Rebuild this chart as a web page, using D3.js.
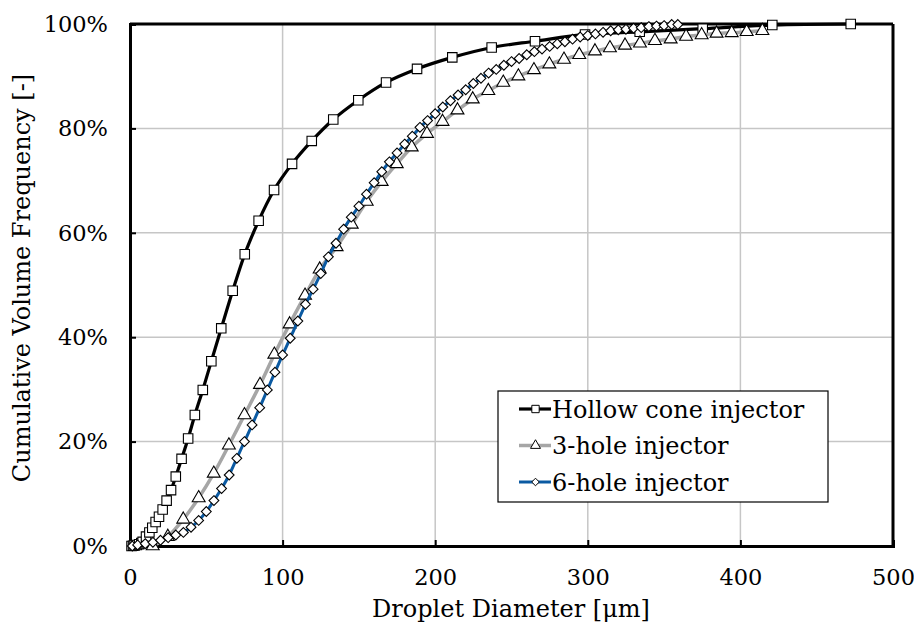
<!DOCTYPE html>
<html>
<head>
<meta charset="utf-8">
<script src="https://cdn.jsdelivr.net/npm/d3@7"></script>
<style>
  html, body { margin: 0; padding: 0; background: #fff; }
  svg { display: block; }
  text { font-family: "DejaVu Serif", serif; fill: #000; }
</style>
</head>
<body>
<svg id="chart" width="914" height="628"></svg>
<script>
// ---- Data ----
const seriesNames = ["Hollow cone injector", "3-hole injector", "6-hole injector"];

const hollowD = [1.0, 2.0, 3.0, 4.5, 6.0, 7.4, 8.3, 10.5, 12.7, 14.6, 16.8, 19.0, 21.4, 24.0, 26.9, 30.0, 33.8, 38.1, 42.5, 47.7, 53.3, 59.8, 67.3, 75.2, 84.3, 94.4, 106.2, 119.1, 133.2, 149.6, 167.8, 188.1, 211.2, 237.0, 265.4, 298.2, 334.0, 375.3, 420.9, 472.3];
const hollowV = [0.0, 0.05, 0.1, 0.2, 0.35, 0.55, 0.8, 1.8, 2.6, 3.5, 4.6, 5.6, 7.0, 8.7, 10.7, 13.3, 16.7, 20.6, 25.1, 29.9, 35.4, 41.7, 48.9, 55.9, 62.3, 68.2, 73.2, 77.6, 81.7, 85.4, 88.8, 91.4, 93.6, 95.5, 96.7, 98.0, 98.5, 99.1, 99.8, 100.0];

const threeD = [14.9, 24.8, 34.9, 45.0, 54.9, 64.8, 75.0, 85.2, 94.6, 104.6, 114.7, 124.3, 135.4, 145.3, 155.1, 164.9, 174.8, 184.6, 194.6, 204.8, 214.6, 224.6, 234.8, 244.6, 254.5, 264.7, 274.8, 284.4, 294.4, 304.7, 314.5, 324.4, 334.2, 344.0, 354.3, 364.4, 374.6, 384.4, 394.3, 404.1, 414.4];
const threeV = [0.0, 1.8, 5.1, 9.2, 13.9, 19.3, 25.1, 30.9, 36.7, 42.5, 48.0, 53.0, 57.3, 61.6, 66.0, 69.8, 73.2, 76.4, 79.0, 81.3, 83.5, 85.6, 87.2, 88.8, 90.0, 91.2, 92.3, 93.2, 94.1, 94.8, 95.4, 95.9, 96.3, 96.8, 97.1, 97.6, 97.9, 98.2, 98.3, 98.5, 98.7];

const sixD = [1.5, 5, 10, 15, 20, 25, 30, 35, 40, 45, 50, 55, 60, 65, 70, 75, 80, 85, 90, 95, 100, 105, 110, 115, 120, 125, 130, 135, 140, 145, 150, 155, 160, 165, 170, 175, 180, 185, 190, 195, 200, 205, 210, 215, 220, 225, 230, 235, 240, 245, 250, 255, 260, 265, 270, 275, 280, 285, 290, 295, 300, 305, 310, 315, 320, 325, 330, 335, 340, 345, 350, 355, 359];
const sixV = [0.0, 0.2, 0.45, 0.7, 1.1, 1.6, 2.1, 2.6, 3.6, 4.9, 6.6, 8.7, 11.0, 13.6, 16.8, 20.0, 23.2, 26.5, 29.9, 33.3, 36.6, 39.8, 43.1, 46.3, 49.2, 52.2, 55.4, 58.0, 60.7, 63.0, 65.1, 67.4, 69.6, 71.7, 73.6, 75.3, 77.0, 78.5, 80.2, 81.5, 82.8, 84.1, 85.3, 86.4, 87.4, 88.6, 89.6, 90.6, 91.3, 92.1, 92.8, 93.4, 94.1, 94.7, 95.2, 95.7, 96.2, 96.6, 97.1, 97.5, 97.8, 98.1, 98.4, 98.7, 98.9, 99.0, 99.2, 99.3, 99.5, 99.6, 99.7, 99.9, 99.9];

const xTicks = [0, 100, 200, 300, 400, 500];
const yTicks = [0, 20, 40, 60, 80, 100];
const xTitle = "Droplet Diameter [\u03bcm]";
const yTitle = "Cumulative Volume Frequency [-]";

// ---- Layout ----
const svg = d3.select("#chart");
const pL = 130, pR = 893, pT = 24, pB = 546;

const x = d3.scaleLinear().domain([0, 500]).range([pL, pR]);
const y = d3.scaleLinear().domain([0, 100]).range([pB, pT]);

// square rotated 45 degrees (diamond with equal diagonals)
const symbolRhombus = {
  draw(ctx, size) {
    const r = Math.sqrt(size / 2);
    ctx.moveTo(0, -r); ctx.lineTo(r, 0); ctx.lineTo(0, r); ctx.lineTo(-r, 0); ctx.closePath();
  }
};

// gridlines
const grid = svg.append("g");
grid.selectAll("line.gx").data(xTicks.slice(1, -1)).join("line")
  .attr("x1", d => x(d)).attr("x2", d => x(d))
  .attr("y1", pT).attr("y2", pB)
  .attr("stroke", "#c6c6c6").attr("stroke-width", 1.5);
grid.selectAll("line.gy").data(yTicks.slice(1, -1)).join("line")
  .attr("x1", pL).attr("x2", pR)
  .attr("y1", d => y(d)).attr("y2", d => y(d))
  .attr("stroke", "#c6c6c6").attr("stroke-width", 1.5);

// frame top/right
svg.append("line").attr("x1", pL).attr("x2", pR).attr("y1", pT).attr("y2", pT)
  .attr("stroke", "#000").attr("stroke-width", 3);
svg.append("line").attr("x1", pR).attr("x2", pR).attr("y1", pT).attr("y2", pB)
  .attr("stroke", "#000").attr("stroke-width", 3);

// axes
const xAxis = d3.axisBottom(x).tickValues(xTicks).tickSize(-6).tickPadding(23).tickFormat(d3.format("d"));
const gx = svg.append("g").attr("transform", `translate(0,${pB})`).call(xAxis);
gx.select(".domain").attr("stroke", "#000").attr("stroke-width", 3);
gx.selectAll(".tick line").attr("stroke", "#000").attr("stroke-width", 2);
gx.selectAll(".tick text").attr("font-family", "DejaVu Serif").attr("font-size", 22.5).attr("dy", "0.71em");

const yAxis = d3.axisLeft(y).tickValues(yTicks).tickSize(-6).tickPadding(22).tickFormat(d => d + "%");
const gy = svg.append("g").attr("transform", `translate(${pL},0)`).call(yAxis);
gy.select(".domain").attr("stroke", "#000").attr("stroke-width", 3);
gy.selectAll(".tick line").attr("stroke", "#000").attr("stroke-width", 2);
gy.selectAll(".tick text").attr("font-family", "DejaVu Serif").attr("font-size", 22.5);

// axis titles
svg.append("text").attr("x", 511).attr("y", 617)
  .attr("text-anchor", "middle").attr("font-size", 24).text(xTitle);
svg.append("text").attr("transform", `translate(30,278) rotate(-90)`)
  .attr("text-anchor", "middle").attr("font-size", 24).text(yTitle);

// series
const series = [
  { name: seriesNames[0], d: hollowD, v: hollowV, color: "#000000", width: 3.2, shape: d3.symbolSquare, size: 90 },
  { name: seriesNames[1], d: threeD, v: threeV, color: "#a6a6a6", width: 3.5, shape: d3.symbolTriangle, size: 72 },
  { name: seriesNames[2], d: sixD, v: sixV, color: "#0b5aa2", width: 3, shape: symbolRhombus, size: 48 }
];

const line = d3.line().x(p => x(p[0])).y(p => y(p[1])).curve(d3.curveMonotoneX);

series.forEach(s => {
  const pts = s.d.map((d, i) => [d, s.v[i]]);
  const g = svg.append("g");
  g.append("path").datum(pts).attr("d", line)
    .attr("fill", "none").attr("stroke", s.color).attr("stroke-width", s.width)
    .attr("stroke-linejoin", "round");
  g.selectAll("path.m").data(pts).join("path").attr("class", "m")
    .attr("transform", p => `translate(${x(p[0])},${y(p[1])})`)
    .attr("d", d3.symbol().type(s.shape).size(s.size))
    .attr("fill", "#fff").attr("stroke", "#000").attr("stroke-width", 1.1);
});

// legend
const lg = svg.append("g");
lg.append("rect").attr("x", 498).attr("y", 391).attr("width", 330).attr("height", 111)
  .attr("fill", "#fff").attr("stroke", "#000").attr("stroke-width", 1.2);
series.forEach((s, i) => {
  const cy = 409 + i * 36.5;
  lg.append("line").attr("x1", 519).attr("x2", 551).attr("y1", cy).attr("y2", cy)
    .attr("stroke", s.color).attr("stroke-width", s.width);
  lg.append("path").attr("transform", `translate(535.5,${cy})`)
    .attr("d", d3.symbol().type(s.shape).size(s.size * 0.6))
    .attr("fill", "#fff").attr("stroke", "#000").attr("stroke-width", 1);
  lg.append("text").attr("x", 552).attr("y", cy).attr("dy", "0.36em")
    .attr("font-size", 24).text(s.name);
});
</script>
</body>
</html>
